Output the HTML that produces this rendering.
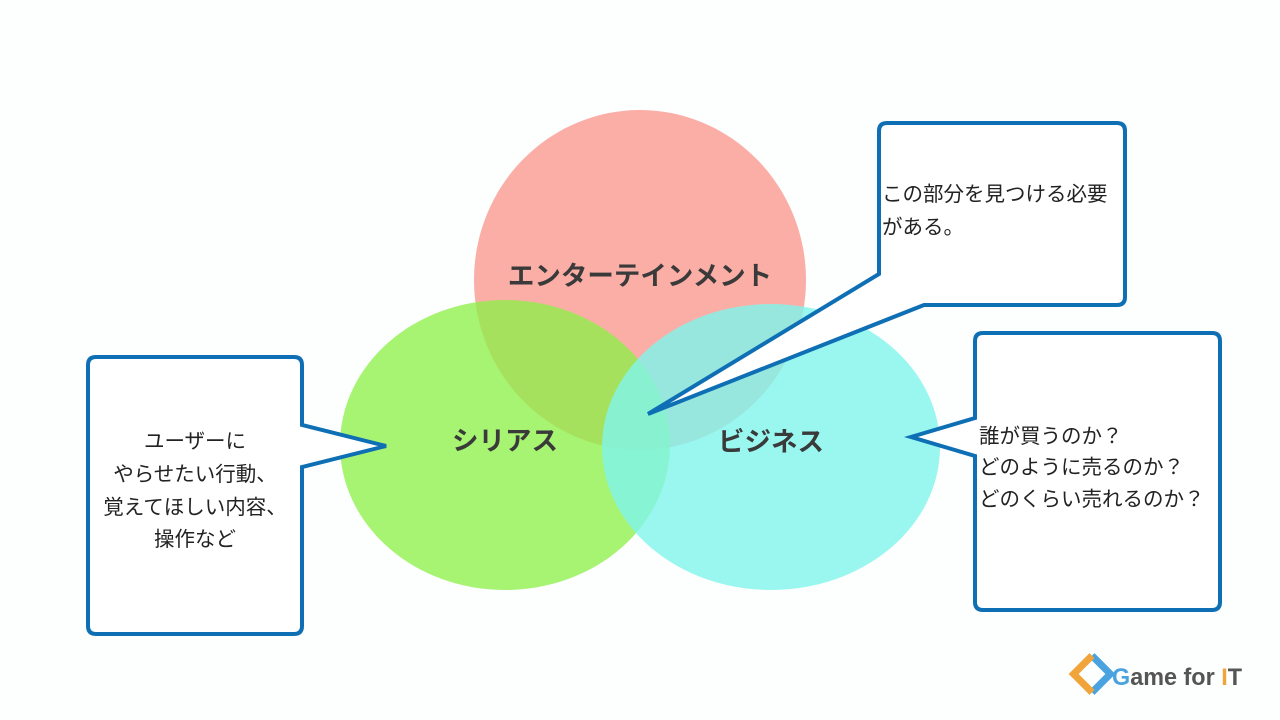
<!DOCTYPE html>
<html><head><meta charset="utf-8"><style>
html,body{margin:0;padding:0;background:#fdfefe;}
svg{display:block}
text{font-family:"Liberation Sans","Noto Sans CJK JP",sans-serif;}
</style></head><body>
<svg width="1280" height="720" viewBox="0 0 1280 720">
<rect width="1280" height="720" fill="#fdfefe"/>
<ellipse cx="640" cy="280" rx="166" ry="170" fill="#fbaea6"/>
<ellipse cx="505" cy="445" rx="165" ry="145" fill="#8ef04a" fill-opacity="0.78"/>
<ellipse cx="771" cy="447" rx="169" ry="143" fill="#80f5ec" fill-opacity="0.8"/>
<g font-weight="bold" font-size="26.5" fill="#3a3a3a" text-anchor="middle">
<text x="640" y="285">エンターテインメント</text>
<text x="505" y="450">シリアス</text>
<text x="771" y="451">ビジネス</text>
</g>
<g fill="#fff" stroke="#0f6fb5" stroke-width="4" stroke-linejoin="miter">
<path d="M887 123 H1117 Q1125 123 1125 131 V297 Q1125 305 1117 305 H924 L648 414 L879 274 V131 Q879 123 887 123 Z"/>
<path d="M96 357 H294 Q302 357 302 365 V425 L386 446 L302 467 V626 Q302 634 294 634 H96 Q88 634 88 626 V365 Q88 357 96 357 Z"/>
<path d="M983 333 H1212 Q1220 333 1220 341 V602 Q1220 610 1212 610 H983 Q975 610 975 602 V456 L911 437 L975 418 V341 Q975 333 983 333 Z"/>
</g>
<g font-size="20.5" fill="#222">
<text x="882" y="201">この部分を見つける必要</text>
<text x="882" y="234">がある。</text>
<text x="979" y="443">誰が買うのか？</text>
<text x="979" y="474">どのように売るのか？</text>
<text x="979" y="506">どのくらい売れるのか？</text>
<g text-anchor="middle">
<text x="195" y="448">ユーザーに</text>
<text x="195" y="481">やらせたい行動、</text>
<text x="195" y="514">覚えてほしい内容、</text>
<text x="195" y="546">操作など</text>
</g>
</g>
<g transform="translate(1092,674) rotate(45)">
<rect x="-13" y="-13" width="26" height="26" fill="none" stroke="#4aa3df" stroke-width="7" stroke-dasharray="52 52"/>
<rect x="-13" y="-13" width="26" height="26" fill="none" stroke="#f0a43a" stroke-width="7" stroke-dasharray="52 52" stroke-dashoffset="52"/>
</g>
<text x="1112" y="685" font-size="24" font-weight="bold" fill="#555" textLength="130" lengthAdjust="spacingAndGlyphs"><tspan fill="#4aa3df">G</tspan>ame for <tspan fill="#f0a43a">I</tspan>T</text>
</svg>
</body></html>
